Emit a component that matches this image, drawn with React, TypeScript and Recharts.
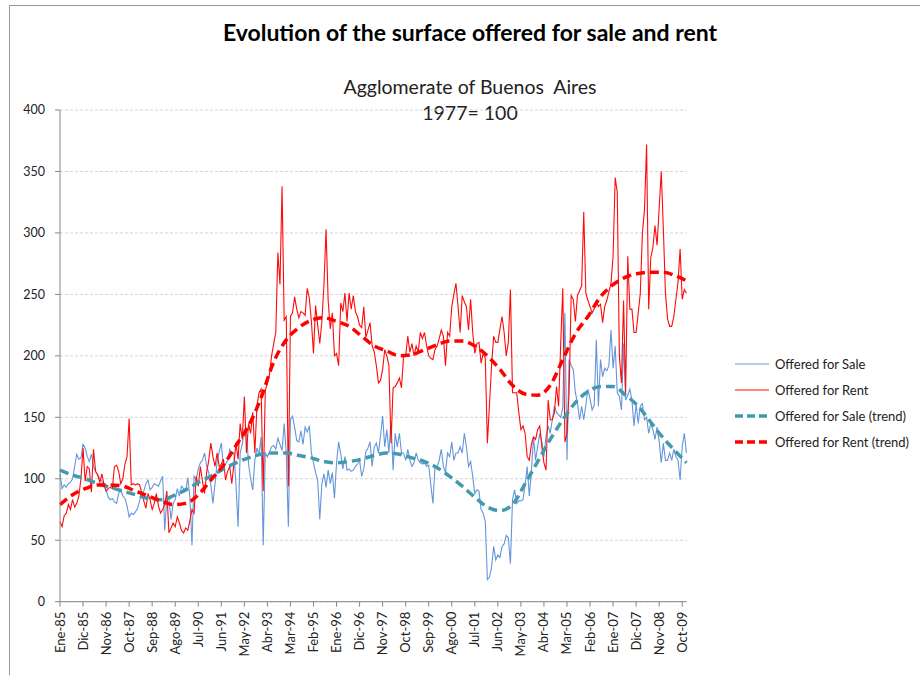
import React from 'react';
import { LineChart, Line, XAxis, YAxis, CartesianGrid } from 'recharts';

const monthNames = ['Ene', 'Feb', 'Mar', 'Abr', 'May', 'Jun', 'Jul', 'Ago', 'Sep', 'Oct', 'Nov', 'Dic'];
const years = ['85', '86', '87', '88', '89', '90', '91', '92', '93', '94', '95', '96', '97', '98', '99', '00', '01', '02', '03', '04', '05', '06', '07', '08', '09'];

const yTicks = [0, 50, 100, 150, 200, 250, 300, 350, 400];

const saleValues = [
  104, 92, 95, 93, 96, 97, 100, 110, 120, 116,
  117, 128, 125, 118, 114, 120, 110, 106, 103, 100,
  98, 95, 91, 85, 83, 84, 81, 80, 88, 91,
  86, 84, 78, 69, 72, 71, 73, 76, 82, 88,
  90, 96, 99, 91, 93, 96, 95, 94, 98, 102,
  58, 85, 83, 67, 80, 83, 92, 86, 94, 92,
  90, 101, 85, 46, 102, 99, 108, 113, 115, 121,
  110, 105, 95, 80, 96, 114, 122, 129, 110, 112,
  115, 124, 120, 121, 95, 61, 121, 128, 140, 138,
  112, 100, 91, 115, 125, 120, 134, 46, 121, 118,
  122, 126, 127, 124, 133, 128, 123, 145, 121, 61,
  148, 151, 142, 131, 130, 139, 128, 142, 138, 143,
  121, 113, 105, 99, 67, 96, 104, 93, 107, 96,
  105, 84, 113, 130, 120, 108, 118, 107, 108, 106,
  107, 110, 112, 115, 102, 108, 122, 125, 130, 110,
  126, 129, 121, 135, 151, 126, 140, 121, 147, 107,
  137, 126, 137, 121, 121, 115, 124, 115, 110, 113,
  121, 115, 113, 112, 113, 110, 111, 95, 80, 110,
  110, 115, 124, 110, 105, 121, 118, 130, 115, 121,
  121, 126, 121, 137, 126, 110, 114, 102, 88, 91,
  90, 75, 72, 65, 18, 20, 28, 45, 34, 38,
  36, 45, 47, 54, 52, 31, 83, 91, 80, 82,
  82, 83, 95, 110, 86, 105, 134, 115, 126, 137,
  130, 118, 135, 143, 137, 148, 159, 154, 152, 150,
  158, 235, 115, 197, 192, 189, 170, 162, 148, 159,
  148, 160, 173, 165, 156, 160, 213, 159, 197, 183,
  190, 188, 192, 221, 190, 208, 170, 167, 156, 210,
  164, 168, 173, 164, 143, 161, 145, 159, 161, 148,
  150, 137, 145, 140, 132, 142, 130, 113, 129, 115,
  115, 121, 115, 124, 118, 115, 99, 126, 137, 121,
];

const rentValues = [
  65, 61, 70, 72, 79, 75, 83, 77, 80, 86,
  100, 125, 98, 110, 108, 89, 124, 106, 103, 97,
  104, 95, 90, 92, 93, 92, 110, 111, 106, 96,
  100, 112, 118, 149, 95, 96, 95, 96, 95, 89,
  82, 76, 88, 83, 75, 80, 88, 78, 72, 75,
  79, 90, 56, 60, 64, 61, 69, 64, 58, 56,
  60, 58, 66, 75, 72, 102, 94, 110, 98, 88,
  105, 115, 129, 118, 110, 121, 110, 112, 116, 99,
  106, 110, 96, 112, 129, 116, 145, 132, 167, 121,
  145, 137, 154, 121, 159, 170, 173, 90, 172, 178,
  185, 200, 210, 219, 284, 258, 338, 229, 232, 94,
  232, 235, 248, 238, 231, 236, 235, 233, 255, 247,
  228, 202, 241, 225, 210, 228, 258, 303, 245, 222,
  235, 200, 202, 192, 243, 236, 251, 228, 251, 238,
  249, 236, 232, 225, 223, 240, 215, 221, 227, 208,
  203, 192, 178, 180, 189, 205, 200, 192, 129, 174,
  175, 178, 182, 174, 200, 200, 216, 203, 210, 200,
  208, 203, 219, 214, 219, 208, 200, 198, 197, 205,
  208, 214, 221, 216, 192, 219, 216, 240, 250, 259,
  240, 219, 249, 244, 240, 221, 246, 219, 202, 210,
  211, 194, 202, 198, 129, 160, 192, 216, 211, 211,
  222, 232, 219, 200, 211, 254, 170, 170, 170, 154,
  140, 143, 137, 118, 115, 128, 134, 132, 140, 143,
  126, 113, 107, 164, 148, 148, 154, 175, 159, 210,
  255, 130, 137, 170, 249, 246, 228, 249, 253, 257,
  317, 251, 245, 240, 235, 238, 245, 240, 242, 227,
  240, 245, 252, 259, 281, 345, 333, 200, 178, 245,
  170, 281, 238, 238, 219, 219, 235, 251, 300, 319,
  372, 238, 280, 288, 306, 290, 320, 350, 303, 251,
  230, 224, 224, 232, 246, 260, 287, 246, 254, 251,
];

const trendMonths = [
  0, 6, 12, 18, 24, 30, 36, 42, 48, 54,
  60, 66, 72, 78, 84, 90, 96, 102, 108, 114,
  120, 126, 132, 138, 144, 150, 156, 162, 168, 174,
  180, 186, 192, 198, 204, 210, 216, 222, 228, 234,
  240, 246, 252, 258, 264, 270, 276, 282, 288, 294, 299,
];

const saleTrend = [
  107, 103, 100, 96, 93, 90, 87, 84, 83, 86,
  91, 97, 102, 108, 113, 117, 120, 121, 121, 119,
  117, 114, 113, 114, 116, 119, 121, 120, 117, 114,
  109, 102, 94, 85, 77, 74, 79, 96, 114, 132,
  148, 162, 171, 175, 175, 168, 159, 146, 133, 122, 113,
];

const rentTrend = [
  79, 87, 92, 95, 95, 94, 90, 86, 82, 79,
  80, 87, 99, 111, 127, 143, 166, 195, 213, 223,
  229, 231, 228, 224, 216, 208, 204, 200, 201, 205,
  209, 212, 212, 208, 200, 189, 176, 169, 168, 176,
  197, 218, 232, 248, 258, 264, 267, 268, 268, 265, 261,
];

const labels: string[] = [];
years.forEach((y) => monthNames.forEach((m) => labels.push(`${m}-${y}`)));

const data = labels.map((label, i) => {
  const ti = trendMonths.indexOf(i);
  return {
    label,
    sale: saleValues[i],
    rent: rentValues[i],
    saleTrend: ti >= 0 ? saleTrend[ti] : null,
    rentTrend: ti >= 0 ? rentTrend[ti] : null,
  };
});

const FONT = 'Lato, "Open Sans", sans-serif';
const SALE = '#6495DB';
const RENT = '#FF0A0A';
const SALE_T = '#4399AE';
const RENT_T = '#FF0000';

const XTick = (props: any) => {
  const { x, y, payload } = props;
  return (
    <g transform={`translate(${x},${y + 3})`}>
      <text x={0} y={0} dy={4.5} textAnchor="end" transform="rotate(-90)" fontSize={13} fill="#222" fontFamily={FONT}>
        {payload.value}
      </text>
    </g>
  );
};

const legendItems = [
  { name: 'Offered for Sale', color: SALE, dashed: false },
  { name: 'Offered for Rent', color: RENT, dashed: false },
  { name: 'Offered for Sale (trend)', color: SALE_T, dashed: true },
  { name: 'Offered for Rent (trend)', color: RENT_T, dashed: true },
];

export default function App() {
  return (
    <div style={{ position: 'absolute', left: 0, top: 0, width: 920, height: 675, background: '#fff', overflow: 'hidden', fontFamily: FONT }}>
      <div style={{ position: 'absolute', left: 9, top: 5, right: -2, bottom: -2, borderLeft: '1px solid #9a9a9a', borderTop: '1px solid #9a9a9a' }} />
      <div style={{ position: 'absolute', left: 0, width: 940, top: 17, textAlign: 'center', fontWeight: 700, fontSize: 23, lineHeight: '30px', color: '#000' }}>
        Evolution of the surface offered for sale and rent
      </div>
      <div style={{ position: 'absolute', left: 0, width: 940, top: 74, textAlign: 'center', fontSize: 19.5, color: '#222', lineHeight: '26px' }}>
        Agglomerate of Buenos&nbsp; Aires
        <br />
        1977= 100
      </div>
      <div style={{ position: 'absolute', left: 0, top: 0 }}>
        <LineChart width={920} height={675} data={data} margin={{ top: 110, right: 233.6, bottom: 13.3, left: 20 }}>
          <CartesianGrid vertical={false} stroke="#d4d4d4" strokeDasharray="3 2" />
          <XAxis
            dataKey="label"
            interval={10}
            tick={<XTick />}
            tickSize={5}
            height={60}
            stroke="#868686"
            padding={{ left: 0, right: 0 }}
          />
          <YAxis
            domain={[0, 400]}
            ticks={yTicks}
            width={40}
            tickSize={5}
            tickMargin={10}
            stroke="#868686"
            tick={{ fontSize: 12.5, fill: '#222', fontFamily: FONT }}
          />
          <Line dataKey="sale" stroke={SALE} strokeWidth={1.1} dot={false} isAnimationActive={false} type="linear" />
          <Line dataKey="rent" stroke={RENT} strokeWidth={1.1} dot={false} isAnimationActive={false} type="linear" />
          <Line dataKey="saleTrend" stroke={SALE_T} strokeWidth={3.5} strokeDasharray="9 5" dot={false} connectNulls isAnimationActive={false} type="monotone" />
          <Line dataKey="rentTrend" stroke={RENT_T} strokeWidth={3.5} strokeDasharray="9 5" dot={false} connectNulls isAnimationActive={false} type="monotone" />
        </LineChart>
      </div>
      <div style={{ position: 'absolute', left: 735, top: 351 }}>
        {legendItems.map((it) => (
          <div key={it.name} style={{ display: 'flex', alignItems: 'center', height: 26 }}>
            <svg width={36} height={10} style={{ marginRight: 4 }}>
              <line x1={0} y1={5} x2={34} y2={5} stroke={it.color} strokeWidth={it.dashed ? 3.5 : 1.2} strokeDasharray={it.dashed ? '8 4' : undefined} />
            </svg>
            <span style={{ fontSize: 13, color: '#222', whiteSpace: 'nowrap' }}>{it.name}</span>
          </div>
        ))}
      </div>
    </div>
  );
}
